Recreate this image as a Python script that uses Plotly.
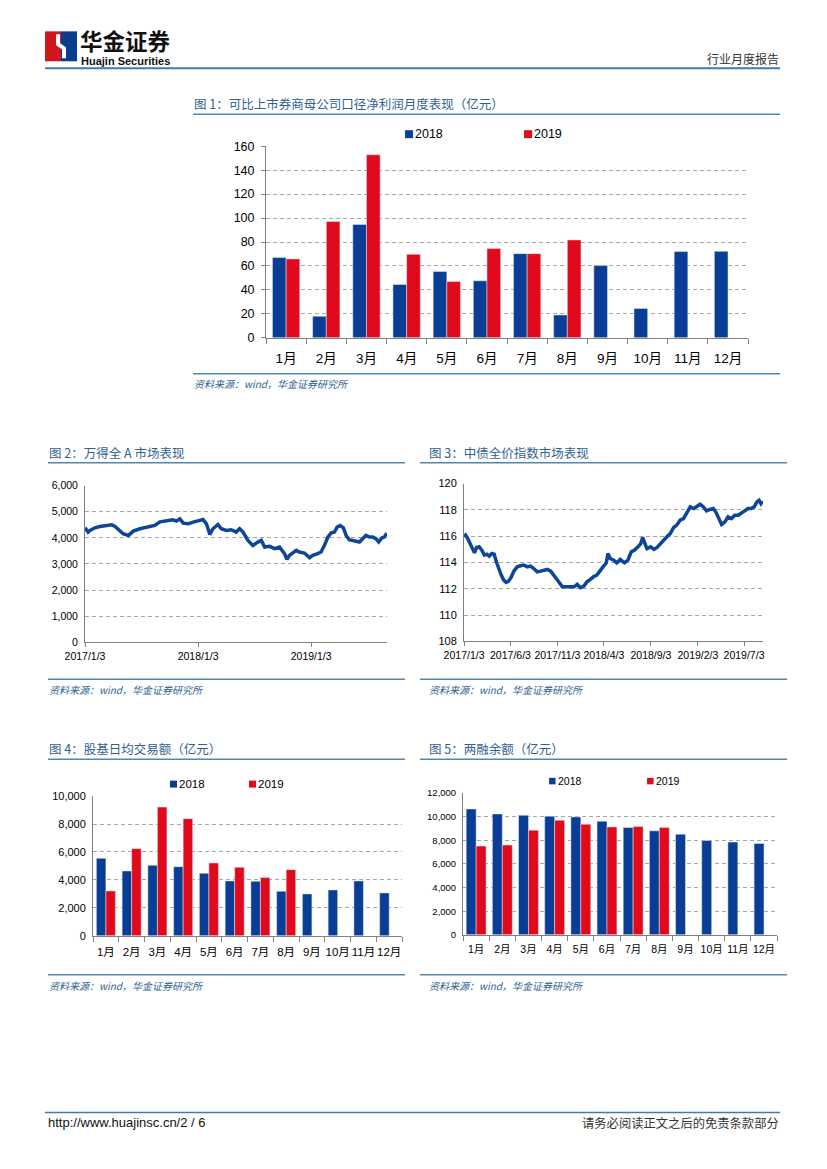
import plotly.graph_objects as go

# page geometry (browser body keeps its default 8px margin)
PAGE_W, PAGE_H = 827, 1169
MARGIN = 8
W, H = PAGE_W - 2 * MARGIN, PAGE_H - 2 * MARGIN
# empirical calibration of page placement (measured from a previous render)
OX, SX = 20.2, 0.974
OY, SY = 5.7, 0.9895

# ---------------- data ----------------
months = ["1月", "2月", "3月", "4月", "5月", "6月", "7月", "8月", "9月", "10月", "11月", "12月"]
series_names = ["2018", "2019"]

profit_2018 = [67, 18, 94.7, 44.6, 55.4, 47.6, 70.3, 19.1, 60.3, 24.6, 72, 72.2]
profit_2019 = [65.9, 97.2, 152.8, 69.8, 47, 74.5, 70.3, 81.7]

turnover_2018 = [5548, 4643, 5048, 4952, 4476, 3929, 3905, 3190, 3000, 3286, 3929, 3071]
turnover_2019 = [3214, 6238, 9214, 8381, 5214, 4905, 4167, 4738]

margin_2018 = [10654, 10234, 10122, 10037, 9981, 9617, 9084, 8804, 8523, 7990, 7850, 7738]
margin_2019 = [7514, 7598, 8860, 9700, 9364, 9140, 9168, 9084]

wind_a_dates = [
    "2017-01-03", "2017-01-13", "2017-01-19", "2017-02-04", "2017-02-20", "2017-03-14", "2017-03-30",
    "2017-04-10", "2017-04-20", "2017-05-06", "2017-05-23", "2017-06-08", "2017-06-29", "2017-07-15",
    "2017-07-31", "2017-08-16", "2017-09-02", "2017-09-23", "2017-10-14", "2017-10-25", "2017-11-05",
    "2017-11-16", "2017-12-02", "2017-12-18", "2018-01-03", "2018-01-19", "2018-01-30", "2018-02-10",
    "2018-02-20", "2018-03-08", "2018-03-19", "2018-04-04", "2018-04-20", "2018-05-06", "2018-05-17",
    "2018-05-28", "2018-06-13", "2018-06-29", "2018-07-15", "2018-07-26", "2018-08-06", "2018-08-22",
    "2018-09-07", "2018-09-23", "2018-10-09", "2018-10-17", "2018-10-25", "2018-11-05", "2018-11-16",
    "2018-11-26", "2018-12-12", "2018-12-29", "2019-01-08", "2019-01-24", "2019-02-04", "2019-02-15",
    "2019-02-26", "2019-03-08", "2019-03-19", "2019-03-28", "2019-04-07", "2019-04-17", "2019-04-26",
    "2019-05-06", "2019-05-17", "2019-05-28", "2019-06-08", "2019-06-18", "2019-06-29", "2019-07-10",
    "2019-07-21", "2019-07-31", "2019-08-09", "2019-08-20", "2019-08-27", "2019-09-04",
]
wind_a_values = [
    4385, 4220, 4284, 4385, 4436, 4461, 4500,
    4436, 4322, 4157, 4093, 4258, 4347, 4385,
    4411, 4474, 4614, 4665, 4690, 4639, 4729,
    4563, 4538, 4601, 4665, 4703, 4538, 4131,
    4347, 4512, 4347, 4284, 4309, 4220, 4347,
    4220, 3902, 3712, 3839, 3902, 3648, 3674,
    3585, 3648, 3394, 3178, 3330, 3419, 3521,
    3457, 3419, 3241, 3330, 3394, 3457, 3712,
    4029, 4182, 4220, 4411, 4474, 4385, 4093,
    3928, 3902, 3877, 3839, 3966, 4093, 4029,
    4029, 3966, 3839, 4004, 4029, 4182,
]
wind_a_tickvals = ["2017-01-03", "2018-01-03", "2019-01-03"]
wind_a_ticktext = ["2017/1/3", "2018/1/3", "2019/1/3"]

bond_dates = [
    "2017-01-03", "2017-01-08", "2017-01-14", "2017-01-20", "2017-01-28", "2017-02-06", "2017-02-13",
    "2017-02-21", "2017-03-02", "2017-03-10", "2017-03-18", "2017-03-26", "2017-04-03", "2017-04-11",
    "2017-04-18", "2017-04-25", "2017-05-04", "2017-05-12", "2017-05-20", "2017-05-28", "2017-06-06",
    "2017-06-14", "2017-06-25", "2017-07-06", "2017-07-17", "2017-07-28", "2017-08-07", "2017-08-18",
    "2017-08-29", "2017-09-09", "2017-09-20", "2017-10-01", "2017-10-12", "2017-10-20", "2017-10-28",
    "2017-11-08", "2017-11-19", "2017-11-28", "2017-12-05", "2017-12-16", "2017-12-27", "2018-01-06",
    "2018-01-17", "2018-01-28", "2018-02-07", "2018-02-18", "2018-02-28", "2018-03-11", "2018-03-22",
    "2018-04-02", "2018-04-11", "2018-04-16", "2018-04-24", "2018-05-05", "2018-05-15", "2018-05-26",
    "2018-06-09", "2018-06-20", "2018-07-01", "2018-07-12", "2018-07-23", "2018-08-01", "2018-08-07",
    "2018-08-14", "2018-08-21", "2018-09-02", "2018-09-13", "2018-09-23", "2018-10-04", "2018-10-15",
    "2018-10-25", "2018-11-05", "2018-11-16", "2018-11-26", "2018-12-07", "2018-12-18", "2018-12-29",
    "2019-01-09", "2019-01-20", "2019-01-31", "2019-02-10", "2019-02-21", "2019-03-03", "2019-03-14",
    "2019-03-25", "2019-04-02", "2019-04-12", "2019-04-21", "2019-05-02", "2019-05-12", "2019-05-23",
    "2019-06-03", "2019-06-14", "2019-06-24", "2019-07-05", "2019-07-16", "2019-07-26", "2019-08-05",
    "2019-08-14", "2019-08-21", "2019-08-27", "2019-09-01",
]
bond_values = [
    115.95, 116.08, 115.87, 115.57, 115.19, 114.73, 115.14,
    115.19, 114.94, 114.56, 114.63, 114.48, 114.68, 114.63,
    114.05, 113.54, 113.04, 112.66, 112.48, 112.58, 112.91,
    113.34, 113.67, 113.75, 113.80, 113.67, 113.72, 113.54,
    113.29, 113.34, 113.42, 113.47, 113.34, 113.09, 112.78,
    112.46, 112.15, 112.15, 112.15, 112.20, 112.15, 112.33,
    112.08, 112.20, 112.53, 112.71, 112.91, 113.04, 113.42,
    113.72, 113.97, 114.68, 114.30, 114.18, 113.97, 114.23,
    113.97, 114.18, 114.81, 114.94, 115.19, 115.44, 115.90,
    115.49, 115.06, 115.19, 114.99, 115.14, 115.44, 115.75,
    115.95, 116.20, 116.66, 116.84, 117.22, 117.34, 117.77,
    118.23, 118.10, 118.28, 118.43, 118.23, 117.92, 118.03,
    118.10, 117.85, 117.27, 116.89, 117.09, 117.47, 117.34,
    117.59, 117.59, 117.77, 117.92, 118.10, 118.10, 118.23,
    118.61, 118.73, 118.48, 118.66,
]
bond_tickvals = ["2017-01-03", "2017-06-03", "2017-11-03", "2018-04-03", "2018-09-03", "2019-02-03", "2019-07-03"]
bond_ticktext = ["2017/1/3", "2017/6/3", "2017/11/3", "2018/4/3", "2018/9/3", "2019/2/3", "2019/7/3"]

titles = [
    "图 1：可比上市券商母公司口径净利润月度表现（亿元）",
    "图 2：万得全 A 市场表现",
    "图 3：中债全价指数市场表现",
    "图 4：股基日均交易额（亿元）",
    "图 5：两融余额（亿元）",
]
source_text = "资料来源：wind，华金证券研究所"

# ---------------- styles ----------------
BLUE = "#0A3E96"
RED = "#E10A1C"
LINE_BLUE = "#0D4597"
TITLE_C = "#2F6193"
RULE_C = "#4F88B8"
AXIS_C = "#7F7F7F"
GRID_C = "#A6A6A6"
NUM_FONT = "Liberation Sans, Arial, Noto Sans CJK SC"
CJK_FONT = "Noto Sans CJK SC, Liberation Sans"


def px(x):
    return ((x - OX) / SX - MARGIN) / W


def py(y):
    return 1 - ((y - OY) / SY - MARGIN) / H


fig = go.Figure()

# Chart 1
fig.add_trace(go.Bar(x=months, y=profit_2018, name=series_names[0], marker_color=BLUE,
                     width=0.34, offset=-0.34, xaxis="x", yaxis="y", showlegend=False))
fig.add_trace(go.Bar(x=months[:len(profit_2019)], y=profit_2019, name=series_names[1], marker_color=RED,
                     width=0.34, offset=0, xaxis="x", yaxis="y", showlegend=False))
# Chart 2
fig.add_trace(go.Scatter(x=wind_a_dates, y=wind_a_values, mode="lines", line=dict(color=LINE_BLUE, width=3.5),
                         showlegend=False, xaxis="x2", yaxis="y2"))
# Chart 3
fig.add_trace(go.Scatter(x=bond_dates, y=bond_values, mode="lines", line=dict(color=LINE_BLUE, width=3.5),
                         showlegend=False, xaxis="x3", yaxis="y3"))
# Chart 4
fig.add_trace(go.Bar(x=months, y=turnover_2018, name=series_names[0], marker_color=BLUE,
                     width=0.37, offset=-0.37, xaxis="x4", yaxis="y4", showlegend=False))
fig.add_trace(go.Bar(x=months[:len(turnover_2019)], y=turnover_2019, name=series_names[1], marker_color=RED,
                     width=0.37, offset=0, xaxis="x4", yaxis="y4", showlegend=False))
# Chart 5
fig.add_trace(go.Bar(x=months, y=margin_2018, name=series_names[0], marker_color=BLUE,
                     width=0.38, offset=-0.38, xaxis="x5", yaxis="y5", showlegend=False))
fig.add_trace(go.Bar(x=months[:len(margin_2019)], y=margin_2019, name=series_names[1], marker_color=RED,
                     width=0.38, offset=0, xaxis="x5", yaxis="y5", showlegend=False))


def cat_x(domain, size, standoff, anchor):
    return dict(domain=domain, type="category", showline=True, linecolor=AXIS_C, linewidth=1,
                ticks="outside", tickson="boundaries", ticklen=5, tickcolor=AXIS_C, tickangle=0,
                tickfont=dict(family=NUM_FONT, size=size, color="#000"), ticklabelstandoff=standoff,
                showgrid=False, zeroline=False, fixedrange=True, anchor=anchor)


def val_y(domain, rng, dtick, size, fmt, anchor, ticks=""):
    return dict(domain=domain, range=rng, dtick=dtick, tick0=rng[0], showline=True, linecolor=AXIS_C,
                linewidth=1, ticks=ticks, ticklen=4, tickcolor=AXIS_C, tickformat=fmt,
                tickfont=dict(family=NUM_FONT, size=size, color="#000"), showgrid=True,
                gridcolor=GRID_C, griddash="4px,3px", gridwidth=1, zeroline=False, anchor=anchor,
                ticklabelstandoff=4, fixedrange=True)


def date_x(domain, rng, tv, tt, anchor):
    return dict(domain=domain, type="date", range=rng, tickvals=tv, ticktext=tt, showline=True,
                linecolor=AXIS_C, ticks="outside", ticklen=4, tickcolor=AXIS_C, showgrid=False,
                zeroline=False, tickangle=0, tickfont=dict(family=NUM_FONT, size=10.5, color="#000"),
                anchor=anchor, fixedrange=True)


layout = dict(
    width=W, height=H, margin=dict(l=0, r=0, t=0, b=0), autosize=False,
    paper_bgcolor="white", plot_bgcolor="white", barmode="group",
    font=dict(family=CJK_FONT, color="#000"),
    xaxis=cat_x([px(266), px(748)], 13.5, 8, "y"),
    yaxis=val_y([py(337), py(145)], [0, 160], 20, 12.5, "", "x", ticks="outside"),
    xaxis2=date_x([px(85), px(387)], ["2017-01-03", "2019-09-05"], wind_a_tickvals, wind_a_ticktext, "y2"),
    yaxis2=val_y([py(642), py(485)], [0, 6000], 1000, 10.5, ",", "x2"),
    xaxis3=date_x([px(464), px(763)], ["2017-01-03", "2019-09-03"], bond_tickvals, bond_ticktext, "y3"),
    yaxis3=val_y([py(641), py(483)], [108, 120], 2, 11, "", "x3"),
    xaxis4=cat_x([px(93), px(402)], 11.5, 5, "y4"),
    yaxis4=val_y([py(936), py(796)], [0, 10000], 2000, 11, ",", "x4"),
    xaxis5=cat_x([px(463), px(777)], 10.5, 5, "y5"),
    yaxis5=val_y([py(935), py(793)], [0, 12000], 2000, 9.5, ",", "x5"),
)
fig.update_layout(**layout)

ann = []
shapes = []


def text(x, y, s, size, color="#000", xanchor="left", family=CJK_FONT):
    ann.append(dict(x=px(x), y=py(y), xref="paper", yref="paper", text=s, showarrow=False,
                    xanchor=xanchor, yanchor="middle", font=dict(family=family, size=size, color=color),
                    borderpad=0))


def hline(x0, x1, y, color=RULE_C, width=1.5):
    shapes.append(dict(type="line", xref="paper", yref="paper", x0=px(x0), x1=px(x1), y0=py(y), y1=py(y),
                       line=dict(color=color, width=width)))


def key(x, y, size, color, label, fsize):
    shapes.append(dict(type="rect", xref="paper", yref="paper", x0=px(x), x1=px(x + size),
                       y0=py(y + size / 2), y1=py(y - size / 2), fillcolor=color, line=dict(width=0)))
    text(x + size + 1, y, label, fsize, "#000", family=NUM_FONT)


# Header
shapes.append(dict(type="rect", xref="paper", yref="paper", x0=px(45), x1=px(61), y0=py(60), y1=py(30),
                   fillcolor="#D2161E", line=dict(width=0)))
shapes.append(dict(type="rect", xref="paper", yref="paper", x0=px(61), x1=px(77), y0=py(60), y1=py(30),
                   fillcolor="#0B3C8E", line=dict(width=0)))
shapes.append(dict(type="path", xref="paper", yref="paper",
                   path=f"M {px(56)},{py(33)} L {px(60)},{py(33)} L {px(60)},{py(42)} L {px(66)},{py(46)} "
                        f"L {px(66)},{py(57)} L {px(62)},{py(57)} L {px(62)},{py(48)} L {px(56)},{py(44)} Z",
                   fillcolor="white", line=dict(width=0)))
text(79, 38.5, "<b>华金证券</b>", 22.5, "#111")
text(80, 60, "<b>Huajin Securities</b>", 11, "#111", family="Liberation Sans, Arial")
text(780, 57, "行业月度报告", 12, "#333", xanchor="right")
hline(45, 780, 67, "#3E7BB3", 2)

# Footer
hline(45, 780, 1113, "#3E7BB3", 1.5)
text(47, 1123, "http://www.huajinsc.cn/2 / 6", 13, "#111", family="Liberation Sans Narrow, Liberation Sans")
text(780, 1123, "请务必阅读正文之后的免责条款部分", 12.3, "#333", xanchor="right")

# Chart frames: titles, rules, sources
frames = [
    (193, 193, 780, 102, 113, 373, 383, titles[0]),
    (48, 48, 405, 452, 462, 679, 689, titles[1]),
    (428, 420, 787, 452, 462, 679, 689, titles[2]),
    (48, 48, 405, 748, 759, 975, 986, titles[3]),
    (428, 420, 787, 748, 759, 975, 986, titles[4]),
]
for tx, x0, x1, ty, ly, sy, sty, t in frames:
    text(tx, ty, t, 12.5, TITLE_C)
    hline(x0, x1, ly)
    hline(x0, x1, sy)
    text(tx, sty, "<i>" + source_text + "</i>", 10, TITLE_C)

# Legends (keys drawn next to labels, as in the reference)
key(405, 133, 8, BLUE, series_names[0], 12.5)
key(524, 133, 8, RED, series_names[1], 12.5)
key(170, 784, 7, BLUE, series_names[0], 11.5)
key(249, 784, 7, RED, series_names[1], 11.5)
key(549, 781, 6.5, BLUE, series_names[0], 10.5)
key(647, 781, 6.5, RED, series_names[1], 10.5)

fig.update_layout(annotations=ann, shapes=shapes)

fig.write_html("out.html", config={"displayModeBar": False})
